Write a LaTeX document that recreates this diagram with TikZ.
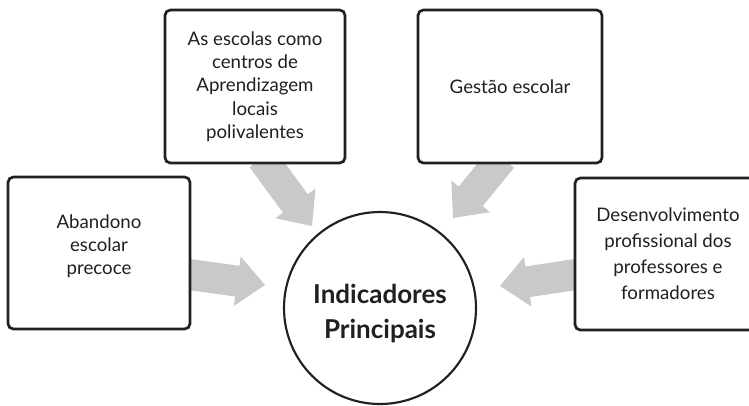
\documentclass[tikz,border=0pt]{standalone}
\usepackage{fontspec}
\setmainfont{Lato}
\usetikzlibrary{calc}
\definecolor{arrowgray}{HTML}{C8C9CA}
\definecolor{ink}{HTML}{231F20}
\tikzset{
  boxtext/.style={align=center, text=ink, font=\fontsize{14}{17.5}\selectfont, inner sep=0pt},
  boxnode/.style={draw=ink, line width=2pt, rounded corners=4pt, fill=white, boxtext},
  centrenode/.style={circle, draw=ink, line width=1.6pt, fill=white, minimum size=144pt, inner sep=0pt},
  centretext/.style={align=center, text=ink, font=\fontsize{19.5}{26}\selectfont\bfseries, inner sep=0pt},
  arrowfill/.style={fill=arrowgray}
}
\newcommand{\blockarrow}[2]{%
  \coordinate (#1-#2-c) at ($(#2)!21pt!(#1)$);
  \fill[arrowfill] ($(#1)!11.6pt!90:(#2)$) -- ($(#1-#2-c)!11.6pt!90:(#2)$)
    -- ($(#1-#2-c)!18.75pt!90:(#2)$) -- (#2) -- ($(#1-#2-c)!18.75pt!-90:(#2)$)
    -- ($(#1-#2-c)!11.6pt!-90:(#2)$) -- ($(#1)!11.6pt!-90:(#2)$) -- cycle;}
\begin{document}
\begin{tikzpicture}[x=0.75pt,y=-0.75pt]
\useasboundingbox (0,0) rectangle (749,405);
\clip (0,0) rectangle (749,405);
% arrow end points
\coordinate (a1s) at (262,158);
\coordinate (a1e) at (312,226);
\coordinate (a2s) at (502,158);
\coordinate (a2e) at (453,218);
\coordinate (a3s) at (182,273.5);
\coordinate (a3e) at (265,285);
\coordinate (a4s) at (582,273.5);
\coordinate (a4e) at (500,286);
\blockarrow{a1s}{a1e}
\blockarrow{a2s}{a2e}
\blockarrow{a3s}{a3e}
\blockarrow{a4s}{a4e}
% boxes
\node[boxnode, minimum width=135pt, minimum height=114.75pt] (b1) at (255,86.5)
  {As escolas como\\centros de\\Aprendizagem\\locais\\polivalentes};
\node[boxnode, minimum width=138pt, minimum height=114.75pt] (b2) at (510,86.5)
  {Gestão escolar};
\node[boxnode, minimum width=136.5pt, minimum height=114pt,
  label={[boxtext, yshift=5pt]center:Abandono\\escolar\\precoce}] (b3) at (99,253) {};
\node[boxnode, minimum width=139.5pt, minimum height=114pt,
  font=\fontsize{14}{19.5}\selectfont] (b4) at (668,254)
  {Desenvolvimento\\profissional dos\\professores e\\formadores};
\node[centrenode, label={[centretext, yshift=-4pt]center:Indicadores\\Principais}] (c) at (380,308) {};
\end{tikzpicture}
\end{document}
